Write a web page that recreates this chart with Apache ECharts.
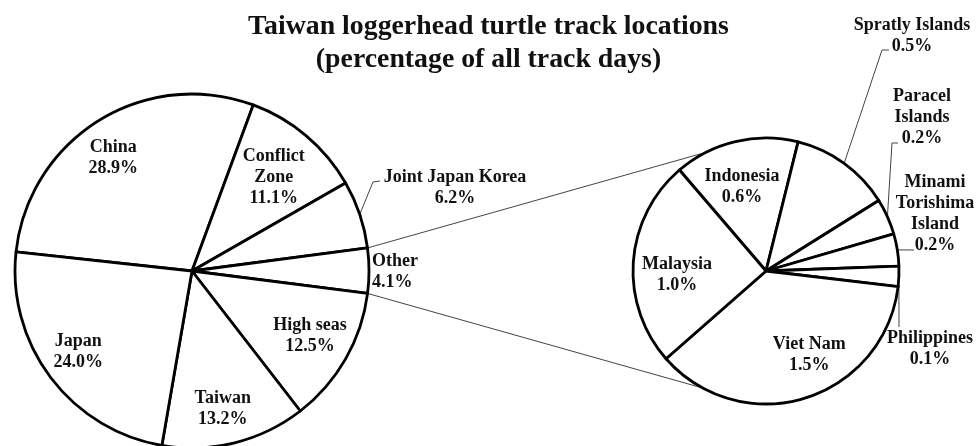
<!DOCTYPE html>
<html><head><meta charset="utf-8">
<script src="https://cdn.jsdelivr.net/npm/echarts@6/dist/echarts.min.js"></script>
<style>html,body{margin:0;padding:0;background:#fff}#c{width:977px;height:446px}</style>
</head><body><div id="c"></div>
<script>
const titleLines = ['Taiwan loggerhead turtle track locations', '(percentage of all track days)'];
const mainCategories = ['China', 'Conflict\nZone', 'Joint Japan Korea', 'Other', 'High seas', 'Taiwan', 'Japan'];
const mainValues = [28.9, 11.1, 6.2, 4.1, 12.5, 13.2, 24.0];
const otherCategories = ['Indonesia', 'Spratly Islands', 'Paracel\nIslands', 'Minami\nTorishima\nIsland', 'Philippines', 'Viet Nam', 'Malaysia'];
const otherValues = [0.62, 0.50, 0.18, 0.16, 0.10, 1.50, 1.03];
const otherIndex = 3;

const FONT = "'Liberation Serif','Times New Roman',serif";
const LEFT = {cx: 192, cy: 271, r: 177, start: 173.8};
const RIGHT = {cx: 766, cy: 271, r: 133, start: 130.6};
const connectorAngles = [116.8, 241.7];

// per-item label placement: inside -> radius fraction f + angle nudge da; outside -> offset from pie centre + leader points
const leftLabelLayout = [
  {f: 0.78, da: 3},
  {f: 0.70, da: -1},
  {lx: 263, ly: -83, pts: [[181, -89], [188, -90]]},
  {lx: 180, ly: 1, align: 'left'},
  {f: 0.76, da: 1},
  {f: 0.80, da: -1.4},
  {f: 0.79, da: -1.5}
];
const rightLabelLayout = [
  {f: 0.66, da: 2.5},
  {lx: 146, ly: -235, pts: [[116, -221], [123, -221]]},
  {lx: 156, ly: -154, pts: [[126, -128], [132, -128]]},
  {lx: 169, ly: -57, pts: [[148, -21]]},
  {lx: 164, ly: 78, pts: [[133, 56]]},
  {f: 0.71, da: 10},
  {f: 0.67, da: 6.7}
];

function sum(a) { return a.reduce((x, y) => x + y, 0); }
function midAngle(values, start, i) {
  const tot = sum(values);
  const before = sum(values.slice(0, i));
  return start - (before + values[i] / 2) / tot * 360;
}
function polar(p, ang, rad) {
  const a = ang * Math.PI / 180;
  return [p.cx + rad * Math.cos(a), p.cy - rad * Math.sin(a)];
}
function makeLayout(values, pie, specs) {
  return function (params) {
    const i = params.dataIndex, s = specs[i];
    const mid = midAngle(values, pie.start, i);
    if (s.f !== undefined) {
      const xy = polar(pie, mid + s.da, pie.r * s.f);
      return {x: xy[0], y: xy[1], align: 'center', verticalAlign: 'middle'};
    }
    const out = {x: pie.cx + s.lx, y: pie.cy + s.ly, align: s.align || 'center', verticalAlign: 'middle'};
    if (s.pts) {
      const pts = [polar(pie, mid, pie.r)].concat(s.pts.map(p => [pie.cx + p[0], pie.cy + p[1]]));
      while (pts.length < 3) pts.push(pts[pts.length - 1].slice());
      out.labelLinePoints = pts;
    }
    return out;
  };
}
function makeData(names, values, specs) {
  return names.map((n, i) => {
    const s = specs[i];
    const d = {name: n, value: values[i]};
    if (s.f === undefined) {
      d.label = {position: 'outside', show: true};
      d.labelLine = {show: !!s.pts};
    }
    return d;
  });
}
const labelStyle = {
  show: true, position: 'inside',
  fontFamily: FONT, fontWeight: 'bold', fontSize: 18, lineHeight: 21, color: '#111',
  formatter: p => p.name + '\n' + p.value.toFixed(1) + '%'
};
function pieSeries(pie, names, values, specs) {
  return {
    type: 'pie', center: [pie.cx, pie.cy], radius: [0, pie.r],
    startAngle: pie.start, clockwise: true, avoidLabelOverlap: false, silent: true,
    animation: false,
    itemStyle: {color: '#fff', borderColor: '#000', borderWidth: 2.8},
    label: labelStyle,
    labelLine: {show: false, smooth: false, lineStyle: {color: '#444', width: 1}},
    emphasis: {disabled: true},
    labelLayout: makeLayout(values, pie, specs),
    data: makeData(names, values, specs)
  };
}

// connectors from the "Other" slice edges to the breakdown pie
const totMain = sum(mainValues);
const oStart = LEFT.start - sum(mainValues.slice(0, otherIndex)) / totMain * 360;
const oEnd = oStart - mainValues[otherIndex] / totMain * 360;
const pA = polar(LEFT, oStart, LEFT.r), pB = polar(LEFT, oEnd, LEFT.r);
const qA = polar(RIGHT, connectorAngles[0], RIGHT.r), qB = polar(RIGHT, connectorAngles[1], RIGHT.r);

const chart = echarts.init(document.getElementById('c'), null, {renderer: 'canvas'});
chart.setOption({
  backgroundColor: '#fff',
  animation: false,
  title: titleLines.map((t, i) => ({
    text: t, left: 'center', top: 10.5 + i * 33, padding: 0,
    textStyle: {fontFamily: FONT, fontWeight: 'bold', fontSize: 27.8, lineHeight: 33, color: '#111'}
  })),
  graphic: [
    {type: 'line', shape: {x1: pA[0], y1: pA[1], x2: qA[0], y2: qA[1]}, style: {stroke: '#444', lineWidth: 1}, silent: true},
    {type: 'line', shape: {x1: pB[0], y1: pB[1], x2: qB[0], y2: qB[1]}, style: {stroke: '#444', lineWidth: 1}, silent: true}
  ],
  series: [
    pieSeries(LEFT, mainCategories, mainValues, leftLabelLayout),
    pieSeries(RIGHT, otherCategories, otherValues, rightLabelLayout)
  ]
});
</script>
</body></html>
